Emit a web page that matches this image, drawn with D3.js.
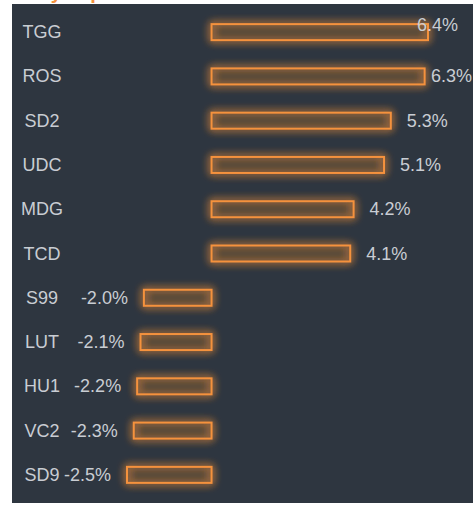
<!DOCTYPE html>
<html>
<head>
<meta charset="utf-8">
<script src="https://cdn.jsdelivr.net/npm/d3@7"></script>
<style>
  html, body { margin: 0; padding: 0; background: #fff; }
  svg { display: block; }
</style>
</head>
<body>
<svg width="473" height="506"></svg>
<script>
// DATA
const tickers = ["TGG", "ROS", "SD2", "UDC", "MDG", "TCD", "S99", "LUT", "HU1", "VC2", "SD9"];
const changes = [6.4, 6.3, 5.3, 5.1, 4.2, 4.1, -2.0, -2.1, -2.2, -2.3, -2.5];
const title = "Daily Top Movers";

const svg = d3.select("svg");
const width = +svg.attr("width");

const orange = "#f5923e";
const textColor = "#c9cdd3";
const font = "'Liberation Sans', Arial, sans-serif";

const rows = tickers.map((t, i) => ({ name: t, value: changes[i] }));

// glow filter
const defs = svg.append("defs");
const glow = defs.append("filter").attr("id", "glow")
  .attr("x", "-20%").attr("y", "-100%").attr("width", "140%").attr("height", "300%");
glow.append("feGaussianBlur").attr("in", "SourceGraphic").attr("stdDeviation", 4).attr("result", "blur");
const merge = glow.append("feMerge");
merge.append("feMergeNode").attr("in", "blur");
merge.append("feMergeNode").attr("in", "blur");
merge.append("feMergeNode").attr("in", "SourceGraphic");

// title (mostly clipped above the panel)
svg.append("text")
  .attr("x", 14).attr("y", -1)
  .attr("fill", orange)
  .attr("font-family", font)
  .attr("font-weight", "bold")
  .attr("font-size", 20)
  .text(title);

// panel
svg.append("rect")
  .attr("x", 12).attr("y", 4)
  .attr("width", width - 12).attr("height", 499)
  .attr("fill", "#2e3640");

// SCALES
const x = d3.scaleLinear()
  .domain([d3.min(changes), d3.max(changes)])
  .range([127, 428]);

const y = d3.scaleBand()
  .domain(tickers)
  .range([10, 497]);

const barH = 16;

const g = svg.selectAll("g.row")
  .data(rows)
  .enter()
  .append("g")
  .attr("class", "row")
  .attr("transform", d => `translate(0, ${y(d.name) + y.bandwidth() / 2})`);

g.append("rect")
  .attr("x", d => x(Math.min(0, d.value)))
  .attr("y", -barH / 2)
  .attr("width", d => Math.abs(x(d.value) - x(0)))
  .attr("height", barH)
  .attr("fill", "rgba(245,146,62,0.04)")
  .attr("stroke", orange)
  .attr("stroke-width", 2)
  .attr("filter", "url(#glow)");

g.append("text")
  .attr("x", 42)
  .attr("y", 6)
  .attr("text-anchor", "middle")
  .attr("fill", textColor)
  .attr("font-family", font)
  .attr("font-size", 18)
  .text(d => d.name);

// value labels
g.append("text")
  .attr("fill", textColor)
  .attr("font-family", font)
  .attr("font-size", 18)
  .each(function(d) {
    const t = d3.select(this).text(d.value.toFixed(1) + "%");
    if (d.value < 0) {
      t.attr("text-anchor", "end").attr("x", x(d.value) - 16).attr("y", 6);
    } else {
      const end = x(d.value);
      const w = this.getComputedTextLength();
      let lx = Math.min(end + 16, width - w - 1);
      let ly = 6;
      if (lx < end + 6) { lx = end - 11; ly = -1; }
      t.attr("x", lx).attr("y", ly);
    }
  });
</script>
</body>
</html>
